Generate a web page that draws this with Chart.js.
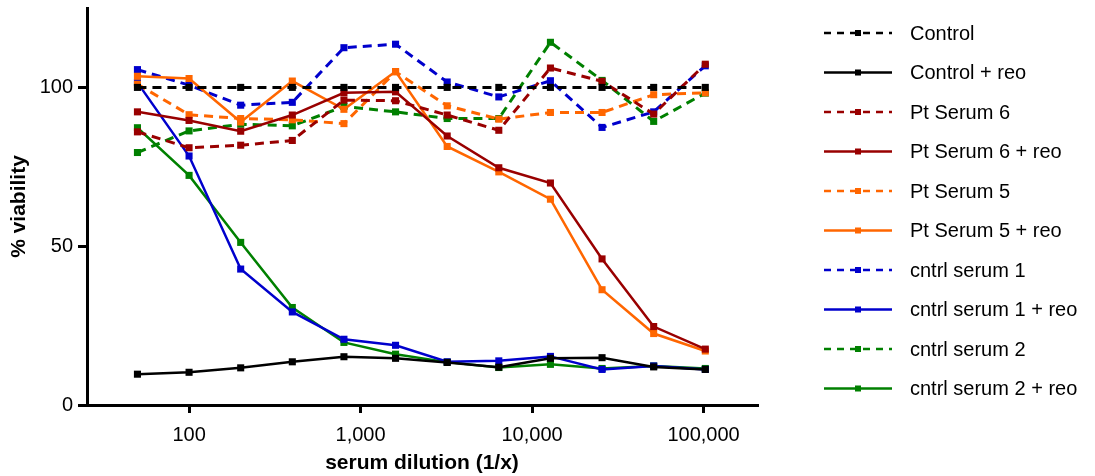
<!DOCTYPE html>
<html>
<head>
<meta charset="utf-8">
<script src="https://cdn.jsdelivr.net/npm/chart.js@4"></script>
<style>
    html, body { margin: 0; padding: 0; background: #fff; }
    #wrap { width: 1095px; height: 476px; position: relative; }
</style>
</head>
<body>
<div id="wrap"><canvas id="viabilityChart"></canvas></div>
<script>
// Serum dilutions (1/x) and % viability readings
const dilutions = [50, 100, 200, 400, 800, 1600, 3200, 6400, 12800, 25600, 51200, 102400];

const control        = [100, 100, 100, 100, 100, 100, 100, 100, 100, 100, 100, 100];
const controlReo     = [9.7, 10.3, 11.7, 13.6, 15.2, 14.7, 13.4, 11.9, 14.7, 14.9, 12.0, 11.2];
const ptSerum6       = [86.0, 81.0, 81.8, 83.3, 96.0, 95.8, 91.3, 86.5, 106.1, 101.9, 91.6, 107.3];
const ptSerum6Reo    = [92.3, 89.6, 86.2, 91.3, 98.3, 98.6, 84.7, 74.7, 69.9, 46.0, 24.7, 17.6];
const ptSerum5       = [101.0, 91.4, 90.2, 89.8, 88.6, 104.9, 94.2, 90.0, 92.1, 92.1, 97.7, 98.3];
const ptSerum5Reo    = [103.5, 102.8, 89.1, 102.0, 93.1, 105.0, 81.4, 73.4, 64.8, 36.3, 22.5, 17.0];
const cntrlSerum1    = [105.6, 100.7, 94.4, 95.3, 112.5, 113.6, 101.7, 97.0, 102.1, 87.4, 92.3, 106.8];
const cntrlSerum1Reo = [101.5, 78.4, 42.8, 29.3, 20.7, 18.8, 13.6, 13.9, 15.3, 11.2, 12.3, 11.2];
const cntrlSerum2    = [79.5, 86.3, 88.4, 87.9, 94.0, 92.3, 90.2, 90.2, 114.2, 102.2, 89.3, 98.2];
const cntrlSerum2Reo = [87.3, 72.3, 51.2, 30.7, 19.7, 16.0, 13.5, 11.8, 12.8, 11.5, 12.3, 11.5];

const xTickValues = [100, 1000, 10000, 100000];
const yTickValues = [0, 50, 100];

const FONT = "'Liberation Sans', Arial, sans-serif";

const series = [
    { label: 'Control',              data: control,        color: '#000000', dashed: true },
    { label: 'Control + reo',        data: controlReo,     color: '#000000', dashed: false },
    { label: 'Pt Serum 6',           data: ptSerum6,       color: '#990000', dashed: true },
    { label: 'Pt Serum 6 + reo',     data: ptSerum6Reo,    color: '#990000', dashed: false },
    { label: 'Pt Serum 5',           data: ptSerum5,       color: '#FF6600', dashed: true },
    { label: 'Pt Serum 5 + reo',     data: ptSerum5Reo,    color: '#FF6600', dashed: false },
    { label: 'cntrl serum 1',        data: cntrlSerum1,    color: '#0000CC', dashed: true },
    { label: 'cntrl serum 1 + reo',  data: cntrlSerum1Reo, color: '#0000CC', dashed: false },
    { label: 'cntrl serum 2',        data: cntrlSerum2,    color: '#008000', dashed: true },
    { label: 'cntrl serum 2 + reo',  data: cntrlSerum2Reo, color: '#008000', dashed: false }
];

const datasets = series.map(s => ({
    label: s.label,
    data: dilutions.map((d, i) => ({ x: d, y: s.data[i] })),
    borderColor: s.color,
    backgroundColor: s.color,
    borderWidth: s.dashed ? 3 : 2.5,
    borderDash: s.dashed ? [9, 6] : [],
    pointStyle: 'rect',
    pointRadius: 5,
    pointBorderWidth: 0,
    pointBackgroundColor: s.color,
    tension: 0,
    fill: false
}));

// Legend drawn by hand: dashed/solid line with a small square in the middle
const sideLegend = {
    id: 'sideLegend',
    afterDraw(chart) {
        const c = chart.ctx;
        c.save();
        series.forEach((s, i) => {
            const y = 33 + i * 39.5;
            c.strokeStyle = s.color;
            c.lineWidth = 2.5;
            c.setLineDash(s.dashed ? [7, 6] : []);
            c.beginPath();
            c.moveTo(824, y);
            c.lineTo(892, y);
            c.stroke();
            c.setLineDash([]);
            c.fillStyle = s.color;
            c.fillRect(855, y - 3, 6, 6);
            c.fillStyle = '#000';
            c.font = '20px ' + FONT;
            c.textBaseline = 'middle';
            c.textAlign = 'left';
            c.fillText(s.label, 910, y + 1);
        });
        c.restore();
    }
};

new Chart(document.getElementById('viabilityChart'), {
    type: 'line',
    data: { datasets },
    options: {
        responsive: true,
        maintainAspectRatio: false,
        animation: false,
        layout: { padding: { left: 5, right: 338, top: 8, bottom: 0 } },
        plugins: {
            legend: { display: false },
            tooltip: { enabled: false }
        },
        scales: {
            x: {
                type: 'logarithmic',
                min: 25.4,
                max: 205000,
                afterBuildTicks: (scale) => { scale.ticks = xTickValues.map(v => ({ value: v })); },
                afterFit: (scale) => { scale.height = 71; scale.paddingLeft = 0; scale.paddingRight = 0; },
                ticks: {
                    autoSkip: false,
                    maxRotation: 0,
                    color: '#000',
                    padding: 10,
                    font: { family: FONT, size: 20 },
                    callback: (v) => Number(v).toLocaleString('en-US')
                },
                grid: { drawOnChartArea: false, drawTicks: true, tickLength: 8, color: '#000', lineWidth: 3 },
                border: { display: true, color: '#000', width: 3 },
                title: {
                    display: true,
                    text: 'serum dilution (1/x)',
                    color: '#000',
                    font: { family: FONT, size: 21, weight: 'bold' },
                    padding: { top: 2, bottom: 0 }
                }
            },
            y: {
                min: 0,
                max: 125,
                afterBuildTicks: (scale) => { scale.ticks = yTickValues.map(v => ({ value: v })); },
                afterFit: (scale) => { scale.width = 82; scale.paddingTop = 0; scale.paddingBottom = 0; },
                ticks: {
                    color: '#000',
                    padding: 5,
                    font: { family: FONT, size: 20 }
                },
                grid: { drawOnChartArea: false, drawTicks: true, tickLength: 9, color: '#000', lineWidth: 3 },
                border: { display: true, color: '#000', width: 3 },
                title: {
                    display: true,
                    text: '% viability',
                    color: '#000',
                    font: { family: FONT, size: 21, weight: 'bold' },
                    padding: { top: 2, bottom: 2 }
                }
            }
        }
    },
    plugins: [sideLegend]
});
</script>
</body>
</html>
